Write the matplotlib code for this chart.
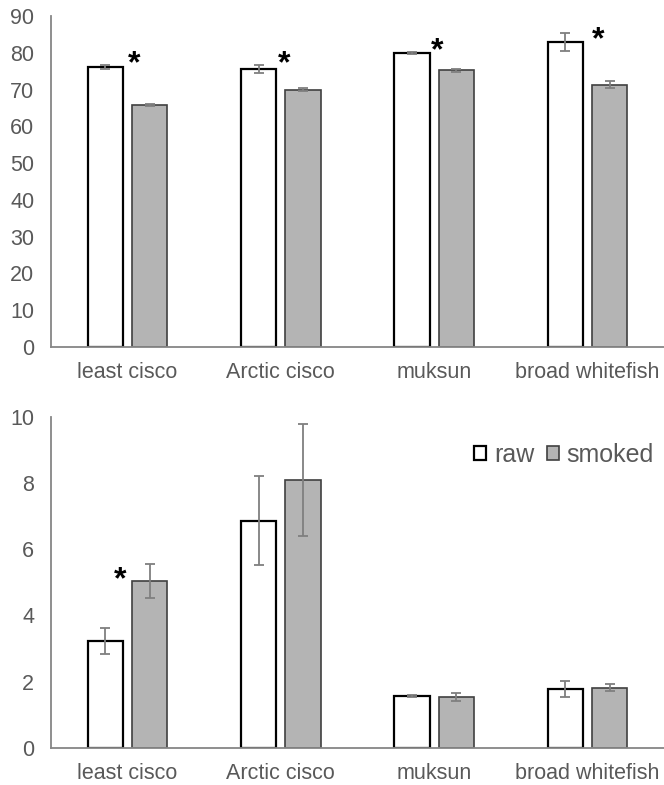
import numpy as np
import matplotlib
matplotlib.use("Agg")
import matplotlib.pyplot as plt
from matplotlib.patches import Patch

plt.rcParams['font.family'] = ['Liberation Sans', 'DejaVu Sans']

species = ["least cisco", "Arctic cisco", "muksun", "broad whitefish"]

# top panel
top_raw = [76.2, 75.6, 80.0, 82.9]
top_raw_err = [0.6, 1.1, 0.3, 2.4]
top_smoked = [65.7, 70.0, 75.2, 71.3]
top_smoked_err = [0.3, 0.3, 0.5, 0.9]
top_star_x = [0.04, 1.02, 2.02, 3.07]
top_star_y = [76.8, 76.8, 80.3, 83.3]

# bottom panel
bot_raw = [3.23, 6.86, 1.56, 1.78]
bot_raw_err = [0.39, 1.35, 0.03, 0.25]
bot_smoked = [5.03, 8.10, 1.54, 1.81]
bot_smoked_err = [0.51, 1.70, 0.12, 0.11]
bot_star_x = [-0.05]
bot_star_y = [5.05]

txt = "#595959"
axcol = "#868686"
grey = "#b4b4b4"
errcol = "#7f7f7f"

fig = plt.figure(figsize=(6.64, 7.85), dpi=100)
ax1 = fig.add_axes([0.0768, 0.558, 0.9232, 0.4216])
ax2 = fig.add_axes([0.0768, 0.0475, 0.9232, 0.4213])

x = np.arange(len(species))
w = 0.23
off = 0.145

def draw(ax, raw, rerr, smk, serr, ymax, step, sx, sy):
    ax.bar(x - off, raw, w, color="white", edgecolor="black", linewidth=1.6, zorder=2, label="raw")
    ax.bar(x + off, smk, w, color=grey, edgecolor="#404040", linewidth=1.2, zorder=2, label="smoked")
    ax.errorbar(x - off, raw, yerr=rerr, fmt="none", ecolor=errcol, elinewidth=1.3, capsize=3.5, capthick=1.3, zorder=3)
    ax.errorbar(x + off, smk, yerr=serr, fmt="none", ecolor=errcol, elinewidth=1.3, capsize=3.5, capthick=1.3, zorder=3)
    for a, b in zip(sx, sy):
        ax.text(a, b, "*", ha="center", va="center", fontsize=23, fontweight="bold", color="black")
    ax.set_xlim(-0.5, 3.5)
    ax.set_ylim(0, ymax)
    ax.set_yticks(np.arange(0, ymax + step / 2, step))
    ax.set_xticks(x)
    ax.set_xticklabels(species)
    ax.tick_params(axis="both", length=0, colors=txt, labelsize=15.5)
    ax.tick_params(axis="x", pad=11)
    ax.tick_params(axis="y", pad=12)
    for s in ["top", "right"]:
        ax.spines[s].set_visible(False)
    for s in ["left", "bottom"]:
        ax.spines[s].set_color(axcol)
        ax.spines[s].set_linewidth(1.3)

draw(ax1, top_raw, top_raw_err, top_smoked, top_smoked_err, 90, 10, top_star_x, top_star_y)
draw(ax2, bot_raw, bot_raw_err, bot_smoked, bot_smoked_err, 10, 2, bot_star_x, bot_star_y)

handles = [Patch(facecolor="white", edgecolor="black", linewidth=1.6, label="raw"),
           Patch(facecolor=grey, edgecolor="#404040", linewidth=1.2, label="smoked")]
leg = ax2.legend(handles=handles, loc="upper right", bbox_to_anchor=(1.02, 0.99), ncol=2, frameon=False,
                 fontsize=18, handlelength=0.5, handleheight=0.5, handletextpad=0.3, columnspacing=0.5)
for t in leg.get_texts():
    t.set_color(txt)

fig.savefig("out.png", dpi=100)
